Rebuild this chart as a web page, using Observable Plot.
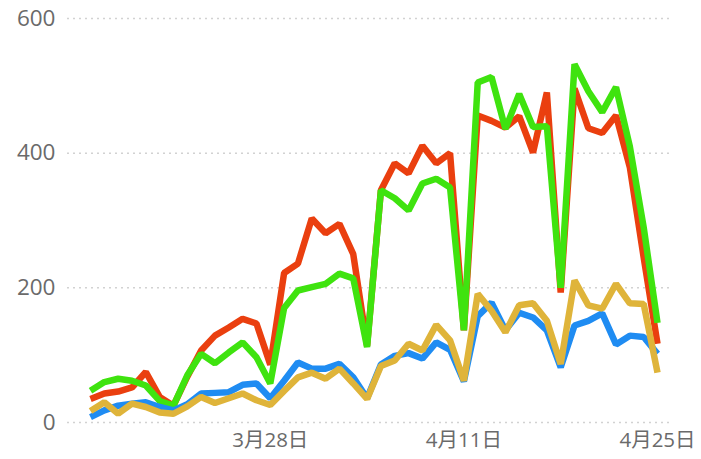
<!DOCTYPE html>
<html>
<head>
<meta charset="utf-8">
<script src="https://cdn.jsdelivr.net/npm/d3@7"></script>
<script src="https://cdn.jsdelivr.net/npm/@observablehq/plot@0.6"></script>
<style>
  html, body { margin: 0; padding: 0; background: #fff; }
  #chart { width: 701px; height: 459px; }
</style>
</head>
<body>
<div id="chart"></div>
<script>
const startDate = "2020-03-15";
const dayCount = 42;

const seriesRed = [35, 43, 46, 52, 75, 38, 25, 68, 107, 129, 141, 154, 147, 86,
  222, 236, 303, 281, 295, 250, 114, 345, 385, 370, 411, 385, 400, 137,
  456, 448, 438, 455, 401, 490, 193, 496, 437, 430, 456, 379, 245, 117];
const seriesGreen = [47, 60, 65, 62, 55, 32, 25, 70, 102, 88, 104, 119, 97, 58,
  170, 196, 201, 206, 221, 214, 112, 345, 333, 315, 355, 362, 349, 137,
  505, 513, 436, 488, 439, 440, 200, 532, 492, 461, 498, 410, 290, 148];
const seriesBlue = [8, 18, 25, 28, 30, 23, 18, 27, 43, 44, 45, 56, 58, 36,
  62, 89, 80, 80, 87, 67, 36, 86, 99, 103, 95, 119, 108, 61,
  158, 178, 137, 163, 156, 137, 82, 144, 151, 162, 116, 129, 127, 102];
const seriesYellow = [17, 30, 13, 28, 23, 15, 13, 24, 38, 29, 36, 43, 33, 26,
  47, 67, 74, 65, 80, 58, 35, 84, 92, 117, 107, 145, 122, 62,
  191, 166, 134, 174, 177, 151, 87, 211, 174, 169, 206, 177, 176, 74];

const seriesNames = ["s1", "s2", "s3", "s4"];
const seriesColors = ["#ea3f0f", "#3fe30f", "#1f8cf2", "#dfb43a"];
const yTicks = [0, 200, 400, 600];
const xTickDates = ["2020-03-28", "2020-04-11", "2020-04-25"];

const start = new Date(startDate + "T00:00:00Z");
const dates = d3.range(dayCount).map(i => d3.utcDay.offset(start, i));
const allSeries = [seriesRed, seriesGreen, seriesBlue, seriesYellow];
const tables = allSeries.map((vals, k) =>
  vals.map((v, i) => ({date: dates[i], value: v, series: seriesNames[k]})));

const fmt = d => `${d.getUTCMonth() + 1}月${d.getUTCDate()}日`;

const chart = Plot.plot({
  width: 701,
  height: 459,
  marginLeft: 67,
  marginRight: 31,
  marginTop: 18,
  marginBottom: 37,
  style: {fontFamily: "'Open Sans', 'Noto Sans CJK SC', sans-serif", background: "#fff", fontSize: "20.5px", color: "#6a6a6a"},
  x: {type: "utc", domain: [dates[0], dates[dayCount - 1]], range: [90, 657]},
  y: {domain: [0, 600]},
  color: {domain: seriesNames, range: seriesColors},
  marks: [
    Plot.ruleY(yTicks, {stroke: "#d2d2d2", strokeDasharray: "2,4", strokeWidth: 1.5}),
    Plot.axisY({ticks: yTicks, tickSize: 0, tickPadding: 12, label: null}),
    Plot.axisX({ticks: xTickDates.map(s => new Date(s + "T00:00:00Z")), tickFormat: fmt, tickSize: 0, tickPadding: 10, label: null}),
    ...tables.map(t => Plot.line(t, {x: "date", y: "value", stroke: "series", strokeWidth: 6.5, strokeLinejoin: "miter", strokeLinecap: "butt"}))
  ]
});
chart.querySelectorAll('[aria-label="y-axis tick label"]').forEach(g => g.setAttribute("font-size", "22.5"));
document.getElementById("chart").appendChild(chart);
</script>
</body>
</html>
